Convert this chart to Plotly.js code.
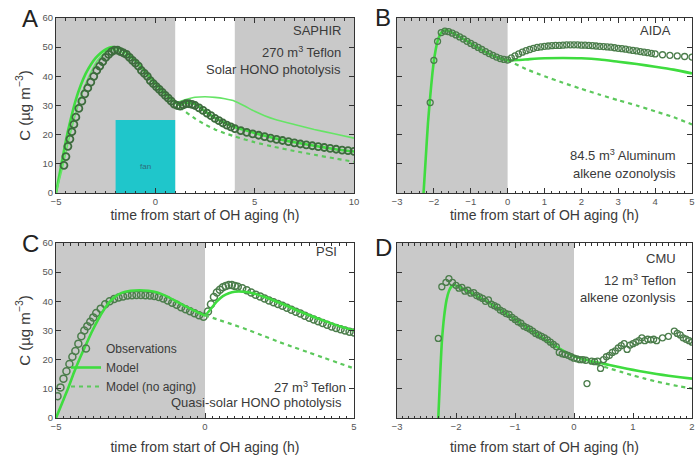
<!DOCTYPE html>
<html>
<head>
<meta charset="utf-8">
<script src="https://cdn.plot.ly/plotly-3.0.1.min.js"></script>
<style>html,body{margin:0;padding:0;background:#fff;}#chart{width:695px;height:462px;}</style>
</head>
<body>
<div id="chart"></div>
<script>
// ---------- Panel A (SAPHIR) ----------
const obsA_t = [-4.6,-4.5,-4.4,-4.3,-4.2,-4.1,-4.0,-3.85,-3.7,-3.55,-3.4,-3.25,-3.1,-2.95,-2.8,-2.65,-2.5,-2.35,-2.2,-2.05,-1.9,-1.75,-1.6,-1.45,-1.3,-1.15,-1.0,-0.85,-0.7,-0.55,-0.4,-0.25,-0.1,0.05,0.2,0.35,0.5,0.65,0.8,0.95,1.1,1.25,1.4,1.55,1.7,1.85,2.0,2.2,2.4,2.6,2.8,3.0,3.2,3.4,3.6,3.8,4.0,4.3,4.6,4.9,5.2,5.5,5.8,6.1,6.4,6.7,7.0,7.3,7.6,7.9,8.2,8.5,8.8,9.1,9.4,9.7,10.0];
const obsA_c = [9.5,12.5,16,18.5,21,23.5,26,29,31.5,34,36,38,40,42,43.5,45,46.5,47.5,48.5,49,49,48.5,48,47.5,46.5,45.5,44.5,43.5,42,41,40,38.5,37.5,36.5,35.5,34.5,33.5,32.5,31.5,30.5,30,29.8,30.2,30.6,30.6,30.4,30,29.2,28.3,27.4,26.5,25.6,24.8,24,23.3,22.7,22.1,21.4,20.8,20.3,19.8,19.3,18.8,18.4,18,17.6,17.2,16.8,16.5,16.2,15.9,15.6,15.3,15.0,14.7,14.5,14.3];
const modA_t = [-5,-4.75,-4.5,-4.25,-4,-3.75,-3.5,-3.25,-3,-2.75,-2.5,-2.25,-2,-1.75,-1.5,-1.25,-1,-0.5,0,0.5,1,1.25,1.5,2,2.5,3,3.5,4,5,6,7,8,9,10];
const modA_c = [0,9,18,25.5,32,37,41,44,46.3,48,49.2,50,50,49.5,48.5,47,45.3,41.5,37.5,34,31,30.2,31,30.5,28,25.8,24,22.6,20.6,18.8,17.4,16.2,15.1,14.2];
const modA2_t = [-5,-4.7,-4.4,-4.1,-3.8,-3.5,-3.2,-2.9,-2.6,-2.3,-2,-1.7,-1.4,-1,-0.5,0,0.5,1,1.5,2,2.5,3,3.5,4,4.5,5,5.5,6,7,8,9,10];
const modA2_c = [0,8,17,25,32,37.5,42,45.5,47.8,49,49,48.3,47,45,41,37,33.5,31,32,32.8,33,32.8,32.3,31.5,29.8,28,26.5,25.3,23.5,21.8,20.3,18.8];
const noA_t = [1.25,1.5,2,2.5,3,3.5,4,5,6,7,8,9,10];
const noA_c = [29.5,28,25.5,23.5,21.8,20.5,19.4,17.4,15.8,14.4,13.1,11.9,10.7];
const shadeA = [[-5,1],[4,10]];
const fanA = [-2,1,25];

// ---------- Panel B (AIDA) ----------
const obsB_t = [-2.1,-2.0,-1.9,-1.8,-1.7,-1.6,-1.5,-1.4,-1.3,-1.2,-1.1,-1.0,-0.9,-0.8,-0.7,-0.6,-0.5,-0.4,-0.3,-0.2,-0.1,0,0.1,0.2,0.3,0.4,0.5,0.6,0.7,0.8,0.9,1.0,1.1,1.2,1.3,1.4,1.5,1.6,1.7,1.8,1.9,2.0,2.1,2.2,2.3,2.4,2.5,2.6,2.7,2.8,2.9,3.0,3.1,3.2,3.3,3.4,3.5,3.6,3.7,3.8,3.9,4.0,4.2,4.4,4.6,4.8,5.0];
const obsB_c = [31,45.5,52,55,55.5,55.3,54.8,54.2,53.5,52.8,52,51.3,50.6,49.9,49.2,48.5,47.8,47.2,46.6,46.1,45.8,45.6,46.3,47,47.7,48.3,48.8,49.2,49.6,49.9,50.1,50.3,50.4,50.5,50.6,50.6,50.7,50.8,50.8,50.8,50.8,50.7,50.7,50.6,50.5,50.4,50.3,50.2,50.1,50,49.8,49.6,49.5,49.3,49.1,48.9,48.7,48.5,48.3,48.1,47.9,47.7,47.4,47.2,47,46.8,46.6];
const modB_t = [-2.28,-2.22,-2.16,-2.1,-2.04,-1.98,-1.9,-1.8,-1.7,-1.6,-1.4,-1.2,-1.0,-0.8,-0.6,-0.4,-0.2,0,0.3,0.6,1.0,1.5,2.0,2.5,3.0,3.5,4.0,4.5,5.0];
const modB_c = [0,12,24,33,41,47,52,55,55.8,55.5,54.3,52.8,51.3,49.8,48.4,47.1,46.1,45.5,45.6,45.9,46.2,46.3,46.2,45.8,45,44.2,43.3,42.3,41];
const noB_t = [0,0.5,1,1.5,2,2.5,3,3.5,4,4.5,5];
const noB_c = [45.5,42.5,40,37.8,35.7,33.7,31.8,30,28,26,23.5];
const shadeB = [[-3,0]];

// ---------- Panel C (PSI) ----------
const obsC_t = [-4.95,-4.85,-4.75,-4.65,-4.55,-4.45,-4.35,-4.25,-4.15,-4.05,-3.95,-3.85,-3.75,-3.65,-3.5,-3.35,-3.2,-3.05,-2.9,-2.75,-2.6,-2.45,-2.3,-2.15,-2.0,-1.85,-1.7,-1.55,-1.4,-1.25,-1.1,-0.95,-0.8,-0.65,-0.5,-0.35,-0.2,-0.05,0.1,0.2,0.3,0.4,0.5,0.6,0.7,0.8,0.9,1.0,1.1,1.25,1.4,1.55,1.7,1.85,2.0,2.15,2.3,2.45,2.6,2.75,2.9,3.05,3.2,3.35,3.5,3.65,3.8,3.95,4.1,4.25,4.4,4.55,4.7,4.85,5.0];
const obsC_c = [7.5,10.5,13.5,16,18.5,21,23,25.5,28,30,31.5,33,34.5,36,37.5,39,40,40.8,41.3,41.7,42,42.1,42.2,42.2,42.1,42,41.8,41.5,41,40.3,39.5,38.8,38,37.3,36.6,35.9,35.2,34.7,36.5,39,41.5,43,44,44.8,45.3,45.6,45.6,45.3,45,44.5,43.8,43,42.3,41.7,41,40.3,39.7,39.1,38.5,37.8,37.1,36.4,35.8,35.1,34.4,33.8,33.2,32.6,32,31.4,30.9,30.4,30,29.6,29.3];
const modC_t = [-5,-4.8,-4.6,-4.4,-4.2,-4.0,-3.8,-3.6,-3.4,-3.2,-3.0,-2.8,-2.5,-2.2,-1.9,-1.6,-1.3,-1.0,-0.7,-0.4,-0.1,0,0.2,0.4,0.6,0.8,1.0,1.3,1.6,2.0,2.5,3.0,3.5,4.0,4.5,5.0];
const modC_c = [0,5,10,15.5,20.5,25,29.5,33.5,37,39.8,41.7,42.9,43.6,43.8,43.6,43,41.8,40.2,38.5,37,35.6,35.2,37.5,40,41.8,42.8,43.3,43.3,42.8,41.5,39.5,37.3,35.2,33.3,31.5,30];
const noC_t = [0,0.5,1,1.5,2,2.5,3,3.5,4,4.5,5];
const noC_c = [35.2,33.5,31.8,30,28,26,24.2,22.4,20.6,18.8,17];
const shadeC = [[-5,0]];

// ---------- Panel D (CMU) ----------
const obsD_t = [-2.3,-2.24,-2.17,-2.12,-2.06,-2.0,-1.95,-1.9,-1.85,-1.8,-1.75,-1.7,-1.65,-1.6,-1.55,-1.5,-1.45,-1.4,-1.35,-1.3,-1.25,-1.2,-1.15,-1.1,-1.05,-1.0,-0.95,-0.9,-0.85,-0.8,-0.75,-0.7,-0.65,-0.6,-0.55,-0.5,-0.45,-0.4,-0.35,-0.3,-0.25,-0.2,-0.15,-0.1,-0.05,0.0,0.05,0.1,0.15,0.2,0.22,0.3,0.35,0.4,0.45,0.5,0.55,0.6,0.65,0.7,0.75,0.8,0.85,0.9,0.95,1.0,1.05,1.1,1.15,1.2,1.25,1.3,1.35,1.4,1.5,1.6,1.7,1.75,1.8,1.85,1.9,1.95,2.0];
const obsD_c = [27.3,45,46.5,47.8,46.5,45.5,44.5,44.8,43.5,43.8,42.8,43,42,41.5,41,40,40.5,39,38.5,38,37,36.5,35.8,35.5,34.5,33.8,33,32.5,31.5,31,30.5,29.8,29,28.5,28,27.5,26.8,26,25.2,24.5,22.5,22,21.8,21.5,21,20.5,20.3,20,20,19.8,11.8,19.5,19.3,19.5,17,20,21,21.5,22.5,23,24,24.8,25.5,23.5,25,25.5,26,26.5,27.5,26.5,27,26.8,27,26.5,27.5,28,29.8,29,28.5,27.5,27,26.5,26];
const modD_t = [-2.3,-2.27,-2.24,-2.2,-2.16,-2.12,-2.08,-2.03,-1.95,-1.8,-1.6,-1.4,-1.2,-1.0,-0.8,-0.6,-0.4,-0.2,0,0.2,0.4,0.6,0.8,1.0,1.2,1.4,1.6,1.8,2.0];
const modD_c = [0,14,26,35,40.5,43.5,45,45.6,45,43.5,41.3,39,36.5,33.8,31,28.3,25.8,23.3,21.2,20,19,18.2,17.3,16.5,15.8,15.1,14.5,14,13.5];
const noD_t = [0,0.2,0.4,0.6,0.8,1,1.2,1.4,1.6,1.8,2];
const noD_c = [21.2,19.5,18.3,17,15.8,14.6,13.5,12.5,11.6,10.8,10.1];
const shadeD = [[-3,0]];

// ---------- Labels ----------
const xTitle = 'time from start of OH aging (h)';
const yTitle = 'C (µg m<sup>−3</sup>)';
const panelLetters = ['A','B','C','D'];
const notesA = ['SAPHIR','270 m<sup>3</sup> Teflon','Solar HONO photolysis'];
const notesB = ['AIDA','84.5 m<sup>3</sup> Aluminum','alkene ozonolysis'];
const notesC = ['PSI','27 m<sup>3</sup> Teflon','Quasi-solar HONO photolysis'];
const notesD = ['CMU','12 m<sup>3</sup> Teflon','alkene ozonlysis'];
const legendNames = ['Observations','Model','Model (no aging)'];

// ---------- Styles ----------
const W = 695, H = 462;
const F = '"Liberation Sans", Arial, sans-serif';
const TXT = '#3a3a3a';
const OBS = '#4b7d4b';
const OBS_A = '#3d6c3d';
const MOD = '#3fdc3f';
const MOD2 = '#66e466';
const NOAG = '#5cc85c';
const GRAY = '#c9c9c9';
const TEAL = '#1fc6cb';
const px = v => v / W;
const py = v => 1 - v / H;

function obsTrace(t, c, ax, show, size, color, lw) {
  const col = color || OBS;
  return {x: t, y: c, xaxis: 'x' + ax, yaxis: 'y' + ax, mode: 'markers', type: 'scatter',
    name: legendNames[0], showlegend: show, legendrank: 1,
    marker: {symbol: 'circle-open', size: size || 6, color: col, line: {width: lw || 1.3, color: col}}};
}
function modTrace(t, c, ax, show, color, width) {
  return {x: t, y: c, xaxis: 'x' + ax, yaxis: 'y' + ax, mode: 'lines', type: 'scatter',
    name: legendNames[1], showlegend: show, legendrank: 2,
    line: {color: color || MOD, width: width || 2.6, shape: 'spline', smoothing: 0.6}};
}
function noTrace(t, c, ax, show) {
  return {x: t, y: c, xaxis: 'x' + ax, yaxis: 'y' + ax, mode: 'lines', type: 'scatter',
    name: legendNames[2], showlegend: show, legendrank: 3,
    line: {color: NOAG, width: 2.2, dash: '4px,4px', shape: 'spline', smoothing: 0.6}};
}

const traces = [
  modTrace(modA_t, modA_c, '', false),
  modTrace(modA2_t, modA2_c, '', false, MOD2, 1.6),
  noTrace(noA_t, noA_c, '', false),
  obsTrace(obsA_t, obsA_c, '', false, 7, OBS_A, 1.8),
  noTrace(noB_t, noB_c, '2', false),
  modTrace(modB_t, modB_c, '2', false),
  obsTrace(obsB_t, obsB_c, '2', false),
  obsTrace(obsC_t, obsC_c, '3', true, 7, OBS, 1.5),
  modTrace(modC_t, modC_c, '3', true),
  noTrace(noC_t, noC_c, '3', true),
  noTrace(noD_t, noD_c, '4', false),
  modTrace(modD_t, modD_c, '4', false),
  obsTrace(obsD_t, obsD_c, '4', false),
];

const axBase = {
  showline: true, linecolor: '#333', linewidth: 1, mirror: 'ticks',
  ticks: 'inside', ticklen: 5, tickwidth: 1, tickcolor: '#333',
  showgrid: false, zeroline: false, automargin: false,
  tickfont: {family: F, size: 9.5, color: '#555'}
};
const xTitleObj = s => ({text: xTitle, font: {family: F, size: 14, color: TXT}, standoff: s});
const yTitleObj = () => ({text: yTitle, font: {family: F, size: 15, color: TXT}, standoff: 8});

const dxL = [px(56), px(354)], dxR = [px(397), px(692)];
const dyT = [py(193), py(18)], dyB = [py(418), py(243)];

const layout = {
  width: W, height: H,
  margin: {l: 0, r: 0, t: 0, b: 0},
  paper_bgcolor: '#fff', plot_bgcolor: '#fff',
  font: {family: F, color: TXT},
  showlegend: true,
  legend: {x: px(66), y: py(334), xanchor: 'left', yanchor: 'top', bgcolor: 'rgba(0,0,0,0)',
    font: {family: F, size: 12, color: TXT}, traceorder: 'normal'},
  xaxis: Object.assign({}, axBase, {domain: dxL, range: [-5, 10], dtick: 5, anchor: 'y',
    minor: {dtick: 0.5, ticklen: 2.5, ticks: 'inside', tickcolor: '#333'}, title: xTitleObj(0)}),
  yaxis: Object.assign({}, axBase, {domain: dyT, range: [0, 60], dtick: 10, anchor: 'x', title: yTitleObj()}),
  xaxis2: Object.assign({}, axBase, {domain: dxR, range: [-3, 5], dtick: 1, anchor: 'y2',
    minor: {dtick: 0.2, ticklen: 2.5, ticks: 'inside', tickcolor: '#333'}, title: xTitleObj(0)}),
  yaxis2: Object.assign({}, axBase, {domain: dyT, range: [0, 60], dtick: 10, anchor: 'x2', showticklabels: false}),
  xaxis3: Object.assign({}, axBase, {domain: dxL, range: [-5, 5], dtick: 5, anchor: 'y3',
    minor: {dtick: 0.25, ticklen: 2.5, ticks: 'inside', tickcolor: '#333'}, title: xTitleObj(10)}),
  yaxis3: Object.assign({}, axBase, {domain: dyB, range: [0, 60], dtick: 10, anchor: 'x3', title: yTitleObj()}),
  xaxis4: Object.assign({}, axBase, {domain: dxR, range: [-3, 2], dtick: 1, anchor: 'y4',
    minor: {dtick: 0.1, ticklen: 2.5, ticks: 'inside', tickcolor: '#333'}, title: xTitleObj(10)}),
  yaxis4: Object.assign({}, axBase, {domain: dyB, range: [0, 60], dtick: 10, anchor: 'x4', showticklabels: false}),
  shapes: [],
  annotations: []
};

function addShades(list, n) {
  list.forEach(s => layout.shapes.push({type: 'rect', xref: 'x' + n, yref: 'y' + n,
    x0: s[0], x1: s[1], y0: 0, y1: 60, fillcolor: GRAY, line: {width: 0}, layer: 'below'}));
}
addShades(shadeA, ''); addShades(shadeB, '2'); addShades(shadeC, '3'); addShades(shadeD, '4');
layout.shapes.push({type: 'rect', xref: 'x', yref: 'y', x0: fanA[0], x1: fanA[1], y0: 0, y1: fanA[2],
  fillcolor: TEAL, line: {width: 0}, layer: 'below'});
layout.annotations.push({xref: 'x', yref: 'y', x: (fanA[0] + fanA[1]) / 2, y: fanA[2] * 0.36,
  text: 'fan', showarrow: false, font: {family: F, size: 8, color: '#2d6d7a'}});

// panel letters
const letterPos = [[30, 18], [383, 17], [30, 243], [383, 247]];
panelLetters.forEach((L, i) => layout.annotations.push({xref: 'paper', yref: 'paper',
  x: px(letterPos[i][0]), y: py(letterPos[i][1]), text: L, showarrow: false,
  xanchor: 'center', yanchor: 'middle', font: {family: F, size: 24, color: '#222'}}));

function addNotes(notes, n, xs, ys) {
  const xr = n === '' ? 'x domain' : 'x' + n + ' domain';
  const yr = n === '' ? 'y domain' : 'y' + n + ' domain';
  notes.forEach((t, i) => layout.annotations.push({xref: xr, yref: yr, x: xs[i], y: ys[i],
    text: t, showarrow: false, xanchor: 'right', yanchor: 'middle',
    font: {family: F, size: 13, color: TXT}}));
}
addNotes(notesA, '', [0.963, 0.963, 0.963], [0.93, 0.806, 0.703]);
addNotes(notesB, '2', [0.936, 0.953, 0.953], [0.926, 0.217, 0.114]);
addNotes(notesC, '3', [0.95, 0.98, 0.966], [0.949, 0.177, 0.091]);
addNotes(notesD, '4', [0.953, 0.953, 0.953], [0.914, 0.789, 0.691]);

Plotly.newPlot('chart', traces, layout, {displayModeBar: false, staticPlot: true});
</script>
</body>
</html>
